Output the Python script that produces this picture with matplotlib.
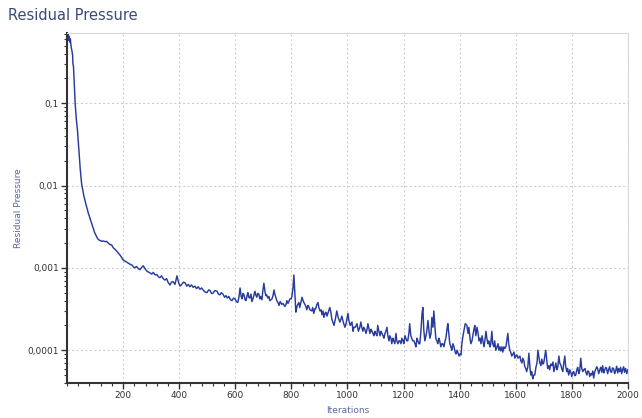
import numpy as np
import matplotlib
matplotlib.use("Agg")
import matplotlib.pyplot as plt
from matplotlib.ticker import FixedLocator, MultipleLocator, LogLocator, NullFormatter

# (iteration, residual) pairs, by stretch of the run
start_drop = [
    (0, 0.72), (2, 0.6), (4, 0.68), (6, 0.58), (8, 0.65), (10, 0.55), (12, 0.6),
    (14, 0.5), (16, 0.46), (18, 0.42), (20, 0.38), (21, 0.3), (23, 0.28),
    (25, 0.2), (27, 0.15), (29, 0.1), (31, 0.08), (33, 0.065), (35, 0.055),
    (37, 0.048), (40, 0.034), (43, 0.025), (47, 0.016), (52, 0.0105),
    (56, 0.0088), (60, 0.0075), (64, 0.0066), (68, 0.0058), (72, 0.0052),
    (76, 0.0046), (80, 0.0042), (85, 0.0037), (90, 0.0033), (94, 0.003),
    (98, 0.0027), (103, 0.0025), (108, 0.0023), (112, 0.0022), (118, 0.00215),
    (124, 0.0021), (130, 0.00212), (136, 0.00208), (141, 0.0021), (147, 0.002),
    (153, 0.00192), (159, 0.0019), (165, 0.00175), (171, 0.00168),
    (177, 0.0016), (184, 0.0015), (191, 0.0014), (200, 0.00125), (208, 0.0012),
    (217, 0.00115), (224, 0.00111), (232, 0.00108),
]

slow_decay = [
    (240, 0.001), (248, 0.00104), (254, 0.00098), (260, 0.00095),
    (266, 0.00101), (272, 0.00106), (278, 0.00098), (284, 0.00092),
    (290, 0.00089), (296, 0.00087), (302, 0.00084), (308, 0.00088),
    (314, 0.00082), (320, 0.00083), (326, 0.00078), (331, 0.00076),
    (337, 0.0008), (343, 0.00074), (349, 0.00071), (355, 0.00074),
    (361, 0.00066), (367, 0.00062), (372, 0.00067), (378, 0.00068),
    (385, 0.00063), (392, 0.0008), (398, 0.00066), (403, 0.0006),
    (409, 0.00063), (415, 0.00067), (421, 0.00066), (427, 0.0006),
    (433, 0.00063), (438, 0.00059), (444, 0.00062), (450, 0.00058),
    (456, 0.0006), (462, 0.00056), (468, 0.00059), (474, 0.00055),
    (480, 0.00057), (485, 0.00054), (492, 0.00051), (499, 0.0005),
    (505, 0.00054), (510, 0.00053), (515, 0.00049), (520, 0.00049),
    (527, 0.00053), (535, 0.00052), (540, 0.00048), (545, 0.00047),
    (550, 0.0005), (556, 0.00048), (562, 0.00044), (567, 0.00046),
    (572, 0.00043), (577, 0.00045), (583, 0.00041), (588, 0.0004),
    (594, 0.00043), (599, 0.00042),
]

middle_noise = [
    (604, 0.00039), (609, 0.00038), (613, 0.00044), (617, 0.00057),
    (621, 0.00045), (624, 0.00042), (628, 0.00049), (631, 0.00047),
    (635, 0.00041), (638, 0.0004), (642, 0.00046), (645, 0.0005),
    (648, 0.00044), (652, 0.00043), (656, 0.00048), (659, 0.00039),
    (663, 0.00042), (666, 0.00046), (670, 0.00052), (673, 0.00047),
    (677, 0.00044), (680, 0.00049), (684, 0.00048), (688, 0.00042),
    (691, 0.00045), (695, 0.00041), (698, 0.00052), (702, 0.00065),
    (706, 0.00051), (709, 0.00046), (712, 0.00047), (716, 0.00043),
    (720, 0.00045), (723, 0.0004), (727, 0.00041), (731, 0.00042),
    (735, 0.00047), (738, 0.00054), (741, 0.00048), (745, 0.00043),
    (748, 0.0004), (752, 0.00038), (756, 0.00035), (760, 0.00039),
    (766, 0.00036), (770, 0.00037), (777, 0.00034), (781, 0.00036),
    (784, 0.0004), (788, 0.00037), (795, 0.00042), (799, 0.00042),
    (802, 0.00045), (806, 0.00058), (809, 0.00082), (813, 0.00045),
    (816, 0.00029), (820, 0.00034), (823, 0.00036), (827, 0.00038),
    (830, 0.00033), (834, 0.00038), (838, 0.00044), (843, 0.00039),
    (848, 0.00036), (852, 0.00034), (855, 0.00031), (859, 0.00035),
    (862, 0.00034), (866, 0.00031), (873, 0.0003), (876, 0.00033),
    (880, 0.00028), (884, 0.00032), (887, 0.00032), (891, 0.00036),
    (895, 0.00038), (898, 0.00033), (902, 0.0003), (906, 0.00031),
    (909, 0.00027), (913, 0.0003), (916, 0.00025), (920, 0.00028),
    (923, 0.00029), (927, 0.00026), (930, 0.00028), (934, 0.00031),
    (937, 0.00033), (941, 0.00029), (944, 0.00024), (948, 0.00022),
    (952, 0.0002), (957, 0.00024), (962, 0.0003), (967, 0.00025),
    (973, 0.00022), (977, 0.00024), (980, 0.00026), (985, 0.00022),
    (991, 0.00019), (995, 0.00021), (998, 0.00024),
]

spiky_part = [
    (1002, 0.00028), (1005, 0.00023), (1010, 0.0002), (1016, 0.00022),
    (1020, 0.00017), (1023, 0.00019), (1028, 0.00019), (1034, 0.00021),
    (1039, 0.00017), (1044, 0.00019), (1048, 0.00022), (1051, 0.00019),
    (1055, 0.00017), (1058, 0.00019), (1062, 0.00018), (1066, 0.00016),
    (1070, 0.00018), (1073, 0.00021), (1077, 0.00018), (1080, 0.00016),
    (1084, 0.00018), (1087, 0.00017), (1091, 0.00016), (1094, 0.00015),
    (1098, 0.00017), (1101, 0.00016), (1105, 0.00015), (1108, 0.0002),
    (1112, 0.00017), (1116, 0.00015), (1120, 0.00017), (1123, 0.00016),
    (1127, 0.00015), (1130, 0.00014), (1134, 0.00016), (1137, 0.00017),
    (1141, 0.00019), (1144, 0.00015), (1148, 0.00013), (1151, 0.00015),
    (1155, 0.00014), (1158, 0.00012), (1162, 0.00014), (1165, 0.00013),
    (1169, 0.00012), (1173, 0.00016), (1176, 0.00013), (1180, 0.00012),
    (1184, 0.00013), (1187, 0.00013), (1191, 0.00012), (1194, 0.00014),
    (1198, 0.00013), (1201, 0.00012), (1205, 0.00015), (1208, 0.00014),
    (1212, 0.00013), (1215, 0.00013), (1219, 0.00016), (1222, 0.00021),
    (1226, 0.00015), (1229, 0.00014), (1233, 0.00013), (1237, 0.00013),
    (1241, 0.00012), (1244, 0.00011), (1248, 0.00014), (1251, 0.00013),
    (1255, 0.00012), (1258, 0.00012), (1262, 0.00017), (1266, 0.00028),
    (1269, 0.00033), (1272, 0.00018), (1276, 0.00013), (1280, 0.00015),
    (1283, 0.00017), (1287, 0.00023), (1291, 0.00017), (1294, 0.00014),
    (1298, 0.00016), (1301, 0.00025), (1305, 0.00019), (1308, 0.0003),
    (1312, 0.00019), (1315, 0.00014), (1319, 0.00013), (1322, 0.00012),
    (1326, 0.00014), (1329, 0.00013), (1333, 0.00011), (1337, 0.00012),
    (1340, 0.00012), (1344, 0.00011), (1348, 0.00013), (1351, 0.00014),
    (1355, 0.00018), (1358, 0.00021), (1362, 0.00015), (1365, 0.00012),
    (1369, 0.00011), (1372, 0.0001), (1376, 0.00012), (1380, 0.00011),
    (1384, 0.000095), (1387, 0.00009), (1391, 0.0001), (1394, 0.000093),
    (1398, 0.000085), (1401, 0.00009), (1405, 0.000088),
]

late_part = [
    (1408, 0.00012), (1412, 0.00015), (1415, 0.00017), (1420, 0.00021),
    (1426, 0.0002), (1430, 0.00016), (1433, 0.00019), (1437, 0.00014),
    (1440, 0.00012), (1444, 0.00013), (1447, 0.00015), (1451, 0.00018),
    (1454, 0.0002), (1458, 0.00015), (1462, 0.00019), (1466, 0.00016),
    (1469, 0.00013), (1473, 0.00014), (1476, 0.00012), (1480, 0.00015),
    (1483, 0.00013), (1487, 0.00011), (1490, 0.00013), (1494, 0.00017),
    (1497, 0.00014), (1501, 0.00012), (1504, 0.00013), (1508, 0.00011),
    (1511, 0.00012), (1515, 0.00017), (1518, 0.00012), (1522, 0.00011),
    (1525, 0.00013), (1529, 0.0001), (1533, 0.00011), (1537, 0.00012),
    (1540, 0.0001), (1544, 0.00011), (1547, 0.000098), (1551, 0.00011),
    (1554, 0.000095), (1558, 0.00011), (1561, 0.000105), (1565, 0.00011),
    (1568, 0.00013), (1572, 0.00016), (1575, 0.00012), (1579, 0.0001),
    (1582, 0.000095), (1586, 0.000085), (1590, 0.00009), (1594, 0.000095),
    (1597, 0.00008), (1601, 0.000086), (1604, 0.000088), (1608, 0.00008),
    (1611, 0.000082), (1615, 0.000085), (1618, 0.000075), (1622, 0.00007),
    (1625, 0.00008), (1629, 0.000075), (1632, 0.000064), (1636, 0.00006),
    (1639, 0.000055), (1643, 0.000062), (1647, 0.000092), (1651, 0.00006),
    (1654, 0.00005), (1657, 0.000055), (1661, 0.000045), (1664, 0.00005),
    (1668, 0.00005), (1672, 0.000062), (1676, 0.00007), (1679, 0.0001),
    (1683, 0.000082), (1686, 0.00007), (1690, 0.000065), (1693, 0.000078),
    (1697, 0.000068),
]

final_part = [
    (1700, 0.00007), (1704, 0.000085), (1707, 0.0001), (1711, 0.000075),
    (1714, 0.00006), (1718, 0.000065), (1721, 0.000058), (1725, 0.000068),
    (1729, 0.000065), (1733, 0.000072), (1736, 0.000055), (1740, 0.000062),
    (1743, 0.00007), (1747, 0.000058), (1750, 0.000062), (1754, 0.000085),
    (1757, 0.00007), (1761, 0.000066), (1764, 0.00006), (1768, 0.000055),
    (1771, 0.000068), (1775, 0.000085), (1778, 0.000065), (1782, 0.000055),
    (1785, 0.00006), (1789, 0.00005), (1793, 0.000058), (1797, 0.000053),
    (1800, 0.000048), (1804, 0.000054), (1807, 0.000055), (1811, 0.000049),
    (1814, 0.00005), (1818, 0.000058), (1821, 0.000062), (1825, 0.000052),
    (1828, 0.000056), (1832, 0.00008), (1835, 0.000062), (1839, 0.000055),
    (1843, 0.000058), (1847, 0.00006), (1850, 0.000054), (1854, 0.00005),
    (1857, 0.000056), (1861, 0.000055), (1864, 0.000048), (1868, 0.000052),
    (1871, 0.00005), (1875, 0.000056), (1878, 0.000046), (1882, 0.000055),
    (1885, 0.000058), (1889, 0.000063), (1892, 0.00006), (1896, 0.000052),
    (1900, 0.000058), (1903, 0.000062), (1907, 0.000054), (1910, 0.000065),
    (1914, 0.000053), (1917, 0.000057), (1921, 0.000062), (1924, 0.00006),
    (1928, 0.000052), (1931, 0.000058), (1935, 0.000063), (1938, 0.000055),
    (1942, 0.000054), (1945, 0.000061), (1949, 0.00006), (1953, 0.000052),
    (1957, 0.000057), (1960, 0.000064), (1964, 0.000053), (1967, 0.00006),
    (1971, 0.000055), (1974, 0.000062), (1978, 0.000052), (1981, 0.000058),
    (1985, 0.000063), (1988, 0.000054), (1992, 0.00006), (1996, 0.000052),
    (2000, 0.000058),
]

x_ticks = [200, 400, 600, 800, 1000, 1200, 1400, 1600, 1800, 2000]
y_ticks = [0.1, 0.01, 0.001, 0.0001]
y_labels = ['0,1', '0,01', '0,001', '0,0001']

pairs = start_drop + slow_decay + middle_noise + spiky_part + late_part + final_part
iterations = [p[0] for p in pairs]
residual = [p[1] for p in pairs]

fig = plt.figure(figsize=(6.42, 4.18), dpi=100)
ax = fig.add_axes([0.1044, 0.0837, 0.8736, 0.8373])

ax.plot(iterations, residual, color='#283c9e', linewidth=1.05)

ax.set_yscale('log')
ax.set_xlim(0, 2000)
ax.set_ylim(4.0e-5, 0.71)

ax.xaxis.set_major_locator(FixedLocator(x_ticks))
ax.xaxis.set_minor_locator(MultipleLocator(40))
ax.yaxis.set_major_locator(FixedLocator(y_ticks))
ax.set_yticklabels(y_labels)
ax.yaxis.set_minor_locator(LogLocator(base=10, subs=np.arange(2, 10)))
ax.yaxis.set_minor_formatter(NullFormatter())

ax.tick_params(which='major', direction='out', length=4, width=1,
               labelsize=6.5, colors='#333333', pad=2)
ax.tick_params(which='minor', direction='out', length=2, width=0.8,
               colors='#333333')

ax.grid(True, which='major', color='#cfcfcf', linestyle=(0, (2, 2)),
        linewidth=0.8)

for s in ['top', 'right']:
    ax.spines[s].set_color('#d8d8d8')
    ax.spines[s].set_linewidth(0.8)
for s in ['left', 'bottom']:
    ax.spines[s].set_color('#333333')
    ax.spines[s].set_linewidth(1.5)

ax.set_xlabel('Iterations', fontsize=6.5, color='#5a66a0', labelpad=4)
ax.set_ylabel('Residual Pressure', fontsize=6.5, color='#5a66a0', labelpad=3)

fig.text(0.012, 0.962, 'Residual Pressure', fontsize=10.5, color='#3d4a78',
         ha='left', va='center')

fig.savefig('out.png', dpi=100)
